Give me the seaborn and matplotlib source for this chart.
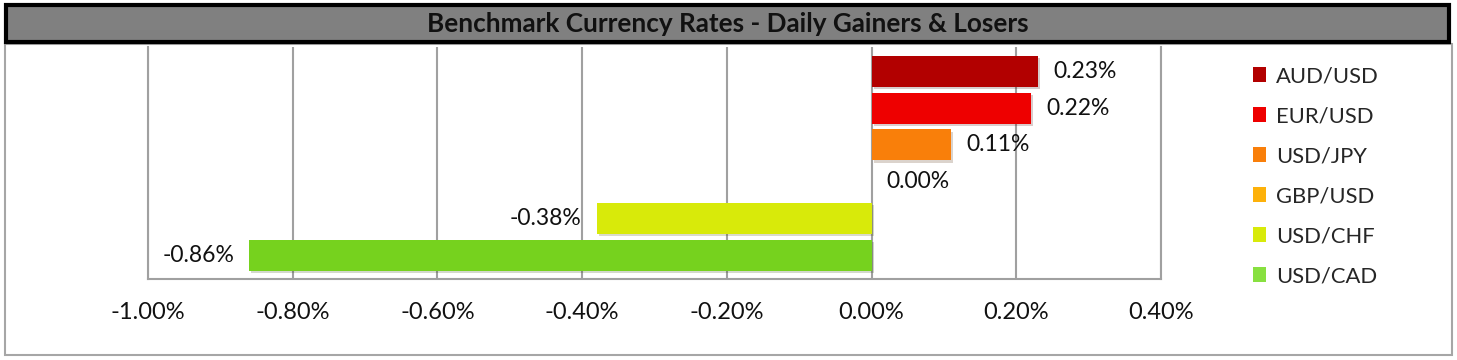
import matplotlib
matplotlib.use("Agg")
import matplotlib.pyplot as plt
import matplotlib.patheffects as pe
from matplotlib.patches import Patch, Rectangle
import seaborn as sns
import pandas as pd

categories = ["AUD/USD", "EUR/USD", "USD/JPY", "GBP/USD", "USD/CHF", "USD/CAD"]
values = [0.23, 0.22, 0.11, 0.00, -0.38, -0.86]
colors = ["#B20000", "#EE0000", "#F97F0A", "#FDB10A", "#D8EA0A", "#76D21E"]
legend_colors = ["#B20000", "#EE0000", "#F97F0A", "#FDB10A", "#D8EA0A", "#88E040"]
xticks = [-1.0, -0.8, -0.6, -0.4, -0.2, 0.0, 0.2, 0.4]
title = "Benchmark Currency Rates - Daily Gainers & Losers"

sns.set_theme(style="white")
plt.rcParams["font.family"] = ["Lato", "DejaVu Sans"]

df = pd.DataFrame({"pair": categories, "change": values})

W, H = 1457, 360
fig = plt.figure(figsize=(W / 100, H / 100), dpi=100)

# outer panel and title bar
fig.patches.append(Rectangle((5 / W, 5 / H), 1447 / W, 311 / H, transform=fig.transFigure,
                             facecolor="white", edgecolor="#A6A6A6", lw=1.5, zorder=-2))
fig.patches.append(Rectangle((6 / W, 318 / H), 1443 / W, 37 / H, transform=fig.transFigure,
                             facecolor="#808080", edgecolor="black", lw=3, zorder=-1))
fig.text(728 / W, 336.5 / H, title, ha="center", va="center", fontsize=18.8,
         fontweight="bold", color="#111111")

ax = fig.add_axes([148 / W, 81 / H, (1161 - 148) / W, (313 - 81) / H])
ax.set_facecolor("none")
sns.barplot(data=df, x="change", y="pair", hue="pair", palette=colors, dodge=False,
            orient="h", width=0.84, legend=False, ax=ax, saturation=1)
for p in ax.patches:
    p.set_path_effects([pe.SimplePatchShadow(offset=(1.5, -1.5), alpha=0.2), pe.Normal()])
    p.set_edgecolor("none")

ax.set_xlim(-1.0, 0.4)
ax.set_ylim(5.64, -0.66)
ax.set_xticks(xticks)
ax.set_xticklabels([f"{t:.2f}%" for t in xticks])
ax.set_yticks([])
ax.set_xlabel("")
ax.set_ylabel("")
ax.tick_params(axis="x", length=0, pad=16.5, labelsize=17, colors="#111111")
ax.grid(axis="x", color="#A0A0A0", lw=1.5)
ax.set_axisbelow(True)
for s in ["top"]:
    ax.spines[s].set_visible(False)
for s in ["left", "bottom", "right"]:
    ax.spines[s].set_color("#A0A0A0")
    ax.spines[s].set_linewidth(1.5)

for i, v in enumerate(values):
    ax.annotate(f"{v:.2f}%", xy=(v, i), xytext=(11 if v >= 0 else -11, 0),
                textcoords="offset points", ha="left" if v >= 0 else "right",
                va="center", fontsize=16.5, color="#111111")

handles = [Patch(facecolor=c, edgecolor="none") for c in legend_colors]
fig.legend(handles, categories, loc="upper left", bbox_to_anchor=(1244 / W, 302.5 / H),
           frameon=False, fontsize=15.8, handlelength=0.62, handleheight=0.62,
           handletextpad=0.45, labelspacing=0.91, borderaxespad=0)

fig.savefig("out.png", dpi=100)
